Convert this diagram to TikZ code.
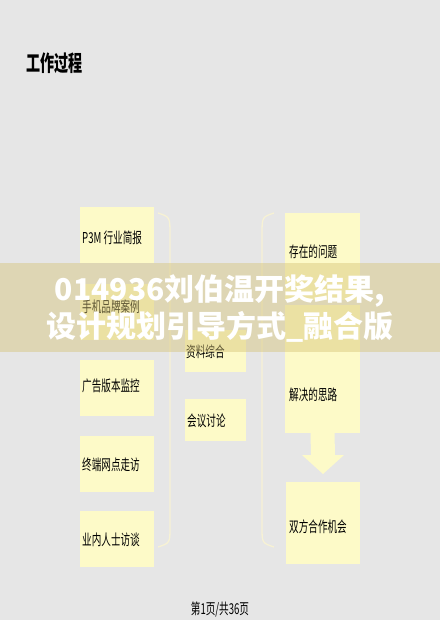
\documentclass[tikz,border=0pt]{standalone}
\usepackage{fontspec}
\usepackage{graphicx}
\usepackage{xcolor}
\newfontfamily\cjk{Noto Sans CJK SC}
\definecolor{pagegrey}{RGB}{230,230,230}
\definecolor{notefill}{RGB}{253,250,200}
\definecolor{bracecol}{RGB}{247,242,212}
\definecolor{bannerfill}{RGB}{214,196,120}
\newcommand{\nar}[1]{\scalebox{0.64}[1]{#1}}
\begin{document}
\begin{tikzpicture}[x=1pt,y=-1pt]

		\tikzset{card/.style = {shape=rectangle,fill=notefill,inner sep=0pt,minimum width=74pt,minimum height=56pt}}
		\tikzset{cardtext/.style = {anchor=west,inner sep=0pt,font=\cjk\fontsize{15}{17}\selectfont}}
		\tikzset{brace/.style = {draw=bracecol,line width=1.3pt}}
		\fill[pagegrey] (0,0) rectangle (440,620);
		\node[anchor=west,inner sep=0pt,font=\cjk\bfseries\fontsize{22}{24}\selectfont] (title) at (26,63) {\nar{工作过程}};
		% left column
		\node[card] (p3m) at (117,235) {};
		\node[card] (brand) at (117,311.5) {};
		\node[card] (ads) at (117,387.5) {};
		\node[card] (shops) at (117,463.5) {};
		\node[card] (insiders) at (117,538.5) {};
		\node[cardtext] (p3mtext) at (82,238) {\nar{P3M 行业简报}};
		\node[cardtext] (brandtext) at (82,307) {\nar{手机品牌案例}};
		\node[cardtext] (adstext) at (82,386) {\nar{广告版本监控}};
		\node[cardtext] (shopstext) at (82,465) {\nar{终端网点走访}};
		\node[cardtext] (insiderstext) at (82,540) {\nar{业内人士访谈}};
		% middle column
		\node[card,minimum width=61pt,minimum height=42pt] (data) at (215,351) {};
		\node[card,minimum width=61pt,minimum height=42pt] (meeting) at (215,420) {};
		\node[cardtext] (datatext) at (186,352) {\nar{资料综合}};
		\node[cardtext] (meetingtext) at (187,421) {\nar{会议讨论}};
		% right column
		\node[card,minimum width=75pt,minimum height=87pt] (problem) at (322.5,256.5) {};
		\node[card,minimum width=75pt,minimum height=128pt] (idea) at (322.5,369) {};
		\node[card,minimum width=74pt,minimum height=82pt] (chance) at (323,523) {};
		\node[cardtext] (problemtext) at (289,252) {\nar{存在的问题}};
		\node[cardtext] (ideatext) at (289,395) {\nar{解决的思路}};
		\node[cardtext] (chancetext) at (289,527) {\nar{双方合作机会}};
		\coordinate (tip) at (323,474);
		\fill[notefill] ([xshift=-12pt]idea.south) -- ([xshift=12pt]idea.south) -- (335,455) -- (344,455)
			-- (tip) -- (302,455) -- (311,455) -- cycle;
		% brackets
		\draw[brace] (158,213) .. controls (170,217) .. (170,235) -- (170,527) .. controls (170,543) .. (158,547);
		\draw[brace] (274,213) .. controls (262,217) .. (262,235) -- (262,527) .. controls (262,543) .. (274,547);
		% footer
		\node[inner sep=0pt,font=\cjk\fontsize{15}{17}\selectfont] (pageno) at (220,609) {\nar{第1页/共36页}};
		% banner
		\fill[bannerfill,opacity=0.45] (0,263) rectangle (440,352);
		\node[inner sep=0pt,text=white,font=\cjk\bfseries\fontsize{30}{34}\selectfont] (line1) at (220,291) {014936刘伯温开奖结果,};
		\node[inner sep=0pt,text=white,font=\cjk\bfseries\fontsize{30}{34}\selectfont] (line2) at (220,327) {设计规划引导方式\_融合版};
		\end{tikzpicture}
\end{document}
